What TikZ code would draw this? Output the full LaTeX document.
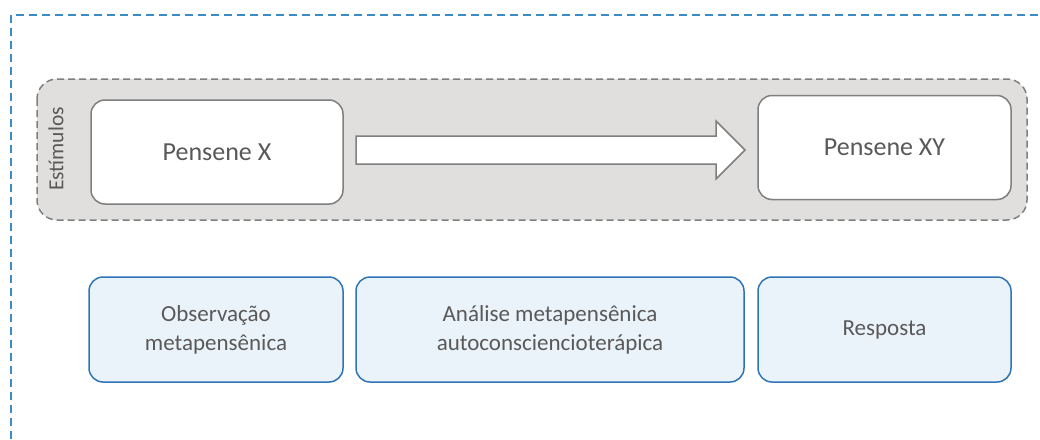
\documentclass[tikz,border=0pt]{standalone}
\usepackage{fontspec}
\setmainfont{Carlito}
\usetikzlibrary{positioning, calc}
\definecolor{frameBlue}{HTML}{3A8CC6}
\definecolor{groupGray}{HTML}{E0DFDE}
\definecolor{lineGray}{HTML}{7F7F7F}
\definecolor{textGray}{HTML}{595959}
\definecolor{etapaFill}{HTML}{EBF3FA}
\definecolor{etapaLine}{HTML}{2E75B6}
\tikzset{
  pensene/.style={draw=lineGray, line width=1.5pt, fill=white, rounded corners=14pt, outer sep=0pt,
    minimum width=252pt, minimum height=104pt, text=textGray, font=\fontsize{26}{30}\selectfont},
  etapa/.style={draw=etapaLine, line width=1.5pt, fill=etapaFill, rounded corners=14pt, outer sep=0pt,
    minimum height=105pt, text=textGray, align=center, font=\fontsize{23}{29}\selectfont},
}

\begin{document}
\begin{tikzpicture}[x=1pt, y=-1pt, node distance=13pt]
\useasboundingbox (0,0) rectangle (1040,439);
% outer frame
\draw[frameBlue, line width=1.3pt, dash pattern=on 8pt off 5pt] (11,439) -- (11,15) -- (1040,15);
% group of stimuli
\draw[lineGray, fill=groupGray, line width=1.5pt, dash pattern=on 7pt off 4pt, rounded corners=20pt] (37,79) rectangle (1027,220);
\node[rotate=90, text=textGray, font=\fontsize{21.5}{24}\selectfont] (estimulos) at (56,149) {Estímulos};
\node[pensene] (pensX) at (217,152) {Pensene X};
\node[pensene, minimum width=253pt] (pensXY) at (884.5,147.5) {Pensene XY};
% big arrow
\coordinate (a0) at ($(pensX.east)+(13,-2)$);
\coordinate (a1) at ($(pensXY.west)+(-13,2.5)$);
\draw[lineGray, fill=white, line width=1.5pt]
  ($(a0)+(0,-14)$) -- ($(a1)+(-29,-14)$) -- ($(a1)+(-29,-29)$) -- (a1)
  -- ($(a1)+(-29,29)$) -- ($(a1)+(-29,14)$) -- ($(a0)+(0,14)$) -- cycle;
% stages
\node[etapa, minimum width=254pt, below=73pt of pensX, xshift=-1pt] (obs) {Observação\\metapensênica};
\node[etapa, minimum width=388pt, right=13pt of obs] (analise) {Análise metapensênica\\autoconsciencioterápica};
\node[etapa, minimum width=253pt, right=14pt of analise] (resp) {Resposta};
\end{tikzpicture}
\end{document}
